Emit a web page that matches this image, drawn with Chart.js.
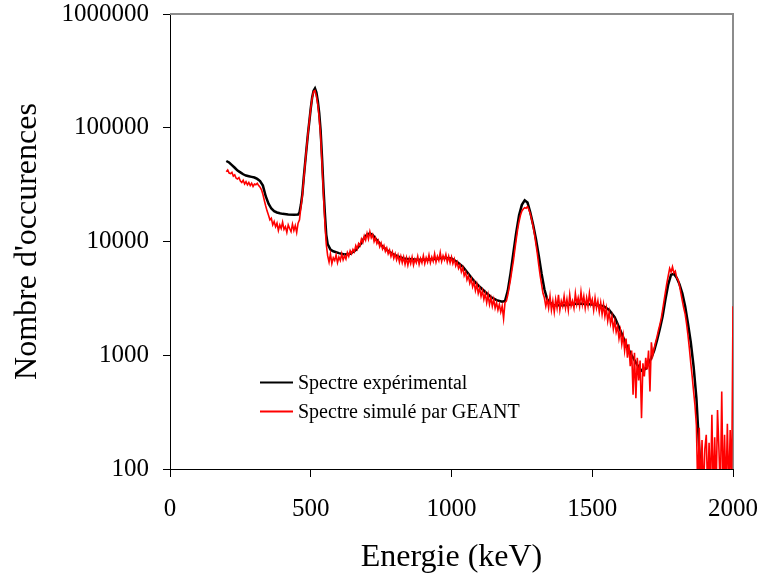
<!DOCTYPE html>
<html>
<head>
<meta charset="utf-8">
<script src="https://cdn.jsdelivr.net/npm/chart.js@4.4.1/dist/chart.umd.min.js"></script>
<style>
  html, body { margin: 0; padding: 0; background: #fff; }
  #wrap { width: 760px; height: 579px; }
</style>
</head>
<body>
<div id="wrap"><canvas id="c" width="760" height="579"></canvas></div>
<script>
// ---- Data ----
const seriesLabels = ["Spectre expérimental", "Spectre simulé par GEANT"];
const xTickValues = [0, 500, 1000, 1500, 2000];
const yTickValues = [100, 1000, 10000, 100000, 1000000];

// Experimental spectrum (energy in keV, counts)
const expEnergy = [200,210,220,230,240,250,260,270,280,290,300,310,320,330,340,350,360,370,380,390,400,420,440,455,460,465,470,475,480,485,490,495,500,505,510,515,520,525,530,535,540,545,550,555,560,570,580,600,620,640,660,680,690,700,710,720,730,750,770,790,810,830,850,880,910,940,970,1000,1020,1040,1060,1080,1100,1120,1140,1160,1180,1190,1200,1210,1220,1230,1240,1250,1260,1270,1280,1290,1300,1310,1320,1330,1340,1360,1400,1450,1500,1540,1560,1580,1600,1620,1640,1660,1675,1690,1700,1710,1720,1730,1740,1750,1760,1770,1780,1790,1800,1810,1820,1830,1840,1850,1860,1870,1880,1890];
const expCounts = [51000,49500,47000,44500,42000,40500,39000,38000,37500,37000,36500,35500,34000,31000,25000,21500,19500,18500,18000,17700,17500,17300,17200,17300,18000,21000,26000,36000,49000,66000,88000,114000,148000,185000,212000,222000,205000,172000,135000,95000,55000,30000,18000,11500,9500,8500,8200,7900,7700,7800,8400,9700,10800,11500,11800,11400,10600,9300,8400,7800,7400,7100,7000,6900,6900,7000,7200,7100,6600,6000,5200,4500,4000,3600,3250,3050,2950,3000,3700,5300,8000,12000,17000,21000,23000,22000,18000,14000,10500,7500,5200,3800,3100,2750,2750,2850,2800,2700,2500,2150,1650,1250,1000,820,730,760,850,950,1100,1350,1700,2200,3100,4200,5100,5200,4800,4200,3500,2700,1900,1300,800,420,150,60];

// Simulated spectrum: channels of 5 keV starting at 200 keV (one row = 50 keV)
const simStartEnergy = 200;
const simChannelWidth = 5;
const simCounts = [
  41000,42500,40000,39500,40500,37500,38500,36000,35500,36500,   // 200
  34000,33000,34500,32000,33500,31500,33000,31000,32500,30500,   // 250
  32000,31500,32500,31000,30000,28500,26000,23000,20500,18500,   // 300
  17000,15500,16000,14000,15000,13500,14500,12500,14000,13000,   // 350
  14800,12800,13500,12000,14000,13000,12200,14200,12500,13800,   // 400
  12000,14500,15500,20000,25000,35000,48000,66000,88000,115000,  // 450
  148000,182000,208000,212000,190000,160000,122000,85000,48000,26000, // 500
  15000,9500,7500,6600,7800,6400,7200,6800,7600,6500,            // 550
  7300,6800,7800,6900,7500,7000,8000,7400,8300,7800,             // 600
  8500,8100,9200,8600,9600,9200,10500,9800,11200,10300,          // 650
  11800,10500,12200,10800,11500,10000,10800,9600,10200,9000,     // 700
  9700,8600,9200,8200,8800,7800,8400,7400,8100,7100,             // 750
  7800,6900,7600,6600,7400,6500,7300,6300,7200,6200,             // 800
  7100,6400,7300,6200,7000,6500,7400,6300,7100,6500,             // 850
  7500,6400,7200,6600,7600,6500,7300,6700,7800,6600,             // 900
  7400,6800,8000,6700,7500,6900,7700,6600,7400,6500,             // 950
  7300,6400,7000,6100,6600,5800,6200,5400,5900,5000,             // 1000
  5400,4600,5000,4300,4700,4000,4400,3700,4200,3500,             // 1050
  3900,3300,3700,3100,3500,2900,3400,2800,3200,2700,             // 1100
  3100,2600,2900,2500,2800,2400,2700,2100,2900,3000,             // 1150
  3400,4000,4700,5700,6800,8500,10500,12800,15000,17000,         // 1200
  18500,19300,19800,19600,20300,19000,17500,15500,13500,11500,   // 1250
  9500,7800,6200,5000,4200,3500,3200,2700,3100,2600,             // 1300
  3300,2500,3000,2400,3100,2600,3400,2500,3000,2700,             // 1350
  3300,2600,3100,2500,3400,2700,3000,2600,3500,2800,             // 1400
  3200,2700,3600,2800,3300,2600,3200,2700,3500,2800,             // 1450
  3100,2500,3200,2600,3000,2400,2900,2300,2800,2200,             // 1500
  2600,2000,2400,1900,2200,1700,2000,1600,1800,1400,             // 1550
  1650,1250,1500,1100,1400,950,1250,800,1100,450,                // 1600
  1050,420,950,600,900,280,850,650,950,750,                      // 1650
  1100,480,1300,1000,1150,1300,1450,1650,1850,2100,              // 1700
  2500,3000,3600,4300,5000,5800,5400,6000,5300,5500,             // 1750
  4800,4600,4100,3500,3000,2600,2300,1900,1500,1150,             // 1800
  850,650,480,360,240,60,230,60,180,60,                          // 1850
  150,200,60,170,60,300,60,190,60,330,                           // 1900
  150,60,480,60,200,60,250,60,220,60,                            // 1950
  2700                                                           // 2000
];

const seriesColors = ["#000000", "#ff0000"];

// ---- Build datasets ----
const expPoints = expEnergy.map((e, i) => ({ x: e, y: expCounts[i] }));
const simPoints = simCounts.map((c, i) => ({ x: simStartEnergy + i * simChannelWidth, y: c }));

const FONT = "'Liberation Serif', 'Times New Roman', Times, serif";

const legendPlugin = {
  id: 'insideLegend',
  afterDraw(chart) {
    const ctx = chart.ctx;
    ctx.save();
    ctx.font = "20px " + FONT;
    ctx.textBaseline = 'middle';
    ctx.textAlign = 'left';
    const rows = [382.5, 411.5];
    chart.data.datasets.forEach((ds, i) => {
      ctx.strokeStyle = ds.borderColor;
      ctx.lineWidth = 2;
      ctx.beginPath();
      ctx.moveTo(260, rows[i]);
      ctx.lineTo(293, rows[i]);
      ctx.stroke();
      ctx.fillStyle = '#000';
      ctx.fillText(ds.label, 298, rows[i] + 1);
    });
    ctx.restore();
  }
};

const framePlugin = {
  id: 'frame',
  beforeDatasetsDraw(chart) {
    const { ctx, chartArea: a } = chart;
    ctx.save();
    ctx.strokeStyle = '#8c8c8c';
    ctx.lineWidth = 2;
    ctx.beginPath();
    ctx.moveTo(a.left, a.top);
    ctx.lineTo(a.right, a.top);
    ctx.lineTo(a.right, a.bottom);
    ctx.stroke();
    ctx.restore();
  }
};

new Chart(document.getElementById('c'), {
  type: 'line',
  data: {
    datasets: [
      { label: seriesLabels[0], data: expPoints, borderColor: seriesColors[0], borderWidth: 2.5,
        pointRadius: 0, tension: 0, fill: false, order: 1 },
      { label: seriesLabels[1], data: simPoints, borderColor: seriesColors[1], borderWidth: 1.6,
        pointRadius: 0, tension: 0, fill: false, order: 0 }
    ]
  },
  options: {
    responsive: false,
    animation: false,
    devicePixelRatio: 1,
    layout: { padding: { top: 14, right: 27, left: 0, bottom: 0 } },
    plugins: { legend: { display: false }, tooltip: { enabled: false } },
    scales: {
      x: {
        type: 'linear',
        min: 0, max: 2000,
        afterFit: s => { s.height = 110; s.paddingLeft = 0; s.paddingRight = 0; },
        afterBuildTicks: s => { s.ticks = xTickValues.map(v => ({ value: v })); },
        grid: { drawOnChartArea: false, drawTicks: true, tickLength: 8, color: '#000' },
        border: { display: true, color: '#000', width: 1 },
        ticks: { color: '#000', font: { family: FONT, size: 25, lineHeight: 1 }, padding: 20,
                 maxRotation: 0, autoSkip: false, callback: v => String(v) },
        title: { display: true, text: 'Energie (keV)', color: '#000',
                 font: { family: FONT, size: 32, lineHeight: 1.2 }, padding: { top: 0, bottom: 2 } }
      },
      y: {
        type: 'logarithmic',
        min: 100, max: 1000000,
        afterFit: s => { s.width = 170; s.paddingTop = 0; s.paddingBottom = 0; },
        afterBuildTicks: s => { s.ticks = yTickValues.map(v => ({ value: v })); },
        grid: { drawOnChartArea: false, drawTicks: true, tickLength: 7, color: '#000' },
        border: { display: true, color: '#000', width: 1 },
        ticks: { color: '#000', font: { family: FONT, size: 25, lineHeight: 1 }, padding: 14,
                 autoSkip: false, callback: v => String(v) },
        title: { display: true, text: "Nombre d'occurences", color: '#000',
                 font: { family: FONT, size: 32, lineHeight: 1.2 }, padding: { top: 8, bottom: 0 } }
      }
    }
  },
  plugins: [framePlugin, legendPlugin]
});
</script>
</body>
</html>
